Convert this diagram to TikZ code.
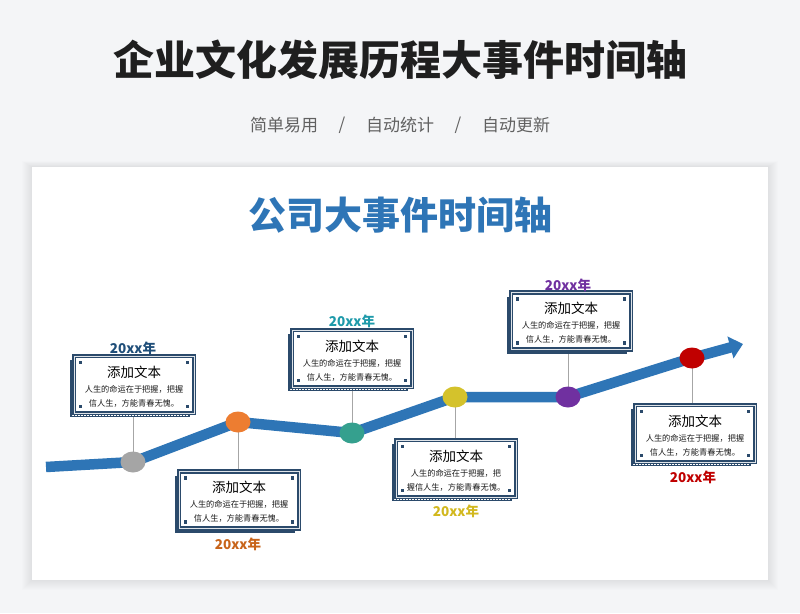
\documentclass[tikz,border=0pt]{standalone}
\usepackage{fontspec}
\setmainfont{Noto Sans CJK SC}
\usetikzlibrary{arrows.meta,shapes.geometric,calc}
\definecolor{pagebg}{HTML}{F4F5F7}
\definecolor{navy}{HTML}{2B4A6B}
\definecolor{tblue}{HTML}{2E75B6}
\definecolor{cgray}{HTML}{A5A5A5}
\definecolor{corange}{HTML}{ED7D31}
\definecolor{cteal}{HTML}{35A08E}
\definecolor{cyellow}{HTML}{D4C22C}
\definecolor{cpurple}{HTML}{7030A0}
\definecolor{cred}{HTML}{C00000}
\definecolor{ynavy}{HTML}{1F4E79}
\definecolor{yorange}{HTML}{C8641A}
\definecolor{yteal}{HTML}{1E9AAA}
\definecolor{yyellow}{HTML}{D2B81E}
\pgfdeclarelayer{back}
\pgfdeclarelayer{under}
\pgfsetlayers{back,under,main}
\tikzset{
  evbox/.style={rectangle, minimum width=120pt, minimum height=57pt, inner sep=0pt,
    draw=navy, line width=2pt, double=white!85!navy, double distance=0.6pt, fill=white},
  dot/.style={ellipse, minimum width=25pt, minimum height=21pt, inner sep=0pt},
  yearlbl/.style={font=\fontsize{13.5}{15}\selectfont\bfseries},
  conn/.style={draw=black!35, line width=0.9pt},
  boxhead/.style={font=\fontsize{13.5}{15}\selectfont},
  boxbody/.style={font=\fontsize{8.2}{14}\selectfont, align=center, text=black!90}
}
\newcommand\evdraw[5]{%
  \fill[navy] (#2-64,#3-24.5) rectangle (#2+56,#3+32.5);
  \draw[white, line width=0.5pt, dash pattern=on 0.6pt off 0.9pt]
    (#2-62,#3-22.5) -- (#2-62,#3+30.5) -- (#2+54,#3+30.5);
  \node[evbox] (#1) at (#2,#3) {};
  \foreach \sx/\sy in {-1/-1,1/-1,-1/1,1/1}
    \fill[navy] ($(#1.center)+(\sx*53.5-1.6,\sy*22-1.6)$) rectangle ++(3.2,3.2);
  \node[boxhead] (#1h) at ($(#1.north)+(0,17)$) {添加文本};
  \node[boxbody] (#1t) at ($(#1.north)+(0,41)$) {#4\\#5};
}
\begin{document}
\begin{tikzpicture}[x=1pt,y=-1pt]
\useasboundingbox (0,0) rectangle (800,613);
\begin{pgfonlayer}{back}
\fill[pagebg] (0,0) rectangle (800,613);
\foreach \i in {1,...,10}
  \fill[black, opacity=0.006] (32-\i,167-\i*0.6) rectangle (768+\i,580+\i);
\fill[white] (32,167) rectangle (768,580);
\end{pgfonlayer}

\node[font=\fontsize{41}{46}\selectfont\bfseries, text=black!88] (title) at (400,60) {企业文化发展历程大事件时间轴};
\node[font=\fontsize{17}{20}\selectfont, text=black!62] (s1) at (284,125) {简单易用};
\node[font=\fontsize{17}{20}\selectfont, text=black!62] (sl1) at (342,125) {/};
\node[font=\fontsize{17}{20}\selectfont, text=black!62] (s2) at (400,125) {自动统计};
\node[font=\fontsize{17}{20}\selectfont, text=black!62] (sl2) at (458,125) {/};
\node[font=\fontsize{17}{20}\selectfont, text=black!62] (s3) at (516,125) {自动更新};

\node[font=\fontsize{38}{42}\selectfont\bfseries, text=tblue] (ctitle) at (400,215) {公司大事件时间轴};

% boxes
\evdraw{b1}{134}{384.5}{人生的命运在于把握，把握}{信人生，方能青春无愧。}
\evdraw{b2}{239}{500}{人生的命运在于把握，把握}{信人生，方能青春无愧。}
\evdraw{b3}{352}{358.5}{人生的命运在于把握，把握}{信人生，方能青春无愧。}
\evdraw{b4}{456}{468.5}{人生的命运在于把握，把}{握信人生，方能青春无愧。}
\evdraw{b5}{571}{321}{人生的命运在于把握，把握}{信人生，方能青春无愧。}
\evdraw{b6}{695}{433.5}{人生的命运在于把握，把握}{信人生，方能青春无愧。}

% dots
\node[dot, fill=cgray] (d1) at (133,462) {};
\node[dot, fill=corange] (d2) at (238,422) {};
\node[dot, fill=cteal] (d3) at (352,433) {};
\node[dot, fill=cyellow] (d4) at (455,397) {};
\node[dot, fill=cpurple] (d5) at (568,397) {};
\node[dot, fill=cred] (d6) at (692,358) {};

\coordinate (start) at (46,467);
\coordinate (tip) at (743,344);

\begin{pgfonlayer}{under}
\draw[conn] (d1.center) -- (d1.center |- b1.south);
\draw[conn] (d2.center) -- (d2.center |- b2.north);
\draw[conn] (d3.center) -- (d3.center |- b3.south);
\draw[conn] (d4.center) -- (d4.center |- b4.north);
\draw[conn] (d5.center) -- (d5.center |- b5.south);
\draw[conn] (d6.center) -- (d6.center |- b6.north);
\draw[tblue, line width=10.5pt, line join=round, -{Triangle[length=13pt,width=22pt]}]
  (start) -- (d1.center) -- (d2.center) -- (d3.center) -- (d4.center)
  -- (d5.center) -- (d6.center) -- (tip);
\end{pgfonlayer}

% years
\node[yearlbl, text=ynavy] (y1) at (133,348) {20xx年};
\node[yearlbl, text=yorange] (y2) at (238,544) {20xx年};
\node[yearlbl, text=yteal] (y3) at (352,321) {20xx年};
\node[yearlbl, text=yyellow] (y4) at (456,511) {20xx年};
\node[yearlbl, text=cpurple] (y5) at (568,285) {20xx年};
\node[yearlbl, text=cred] (y6) at (693,477) {20xx年};
\end{tikzpicture}
\end{document}
